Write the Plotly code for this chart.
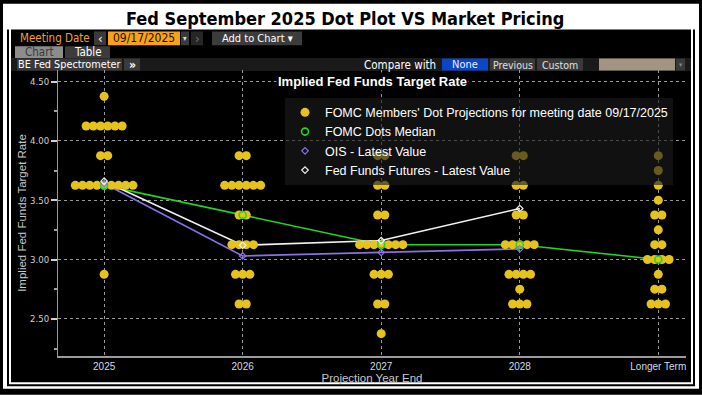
import plotly.graph_objects as go

# ---------------- data ----------------
categories = ["2025", "2026", "2027", "2028", "Longer Term"]

dot_rates_2025 = [4.375, 4.125, 3.875, 3.625, 2.875]
dot_counts_2025 = [1, 6, 2, 9, 1]
dot_rates_2026 = [3.875, 3.625, 3.375, 3.125, 2.875, 2.625]
dot_counts_2026 = [2, 6, 2, 4, 3, 2]
dot_rates_2027 = [3.875, 3.625, 3.375, 3.125, 2.875, 2.625, 2.375]
dot_counts_2027 = [2, 2, 2, 7, 3, 2, 1]
dot_rates_2028 = [3.875, 3.625, 3.375, 3.125, 2.875, 2.75, 2.625]
dot_counts_2028 = [2, 2, 2, 5, 4, 1, 3]
dot_rates_lt = [3.875, 3.75, 3.625, 3.5, 3.375, 3.25, 3.125, 3.0, 2.875, 2.75, 2.625]
dot_counts_lt = [1, 1, 1, 1, 2, 1, 2, 4, 1, 2, 3]

median_values = [3.625, 3.375, 3.125, 3.125, 3.0]
ois_values = [3.64, 3.03, 3.06, 3.09]
fff_values = [3.66, 3.12, 3.16, 3.43]

y_ticks = [2.5, 3.0, 3.5, 4.0, 4.5]
y_tick_labels = ["2.50", "3.00", "3.50", "4.00", "4.50"]

# ---------------- layout helpers ----------------
W, H = 702, 395
L, R, T, B = 58, 686, 70, 359
DOT_SPACING = 0.052


def px(x):
    return (x - L) / (R - L)


def py(y):
    return (B - y) / (B - T)


NARROW = "Liberation Sans Narrow, DejaVu Sans Condensed, Arial Narrow, sans-serif"
SANS = "Liberation Sans, Arial, sans-serif"

shapes = []
annotations = []


def rect(x0, y0, x1, y1, fill=None, line_color=None, line_width=0, layer="below"):
    shapes.append(dict(
        type="rect", xref="paper", yref="paper",
        x0=px(x0), x1=px(x1), y0=py(y1), y1=py(y0),
        fillcolor=fill if fill else "rgba(0,0,0,0)",
        line=dict(color=line_color if line_color else "rgba(0,0,0,0)", width=line_width),
        layer=layer,
    ))


def text(x, y, s, color="#ffffff", size=12, xanchor="center", family=NARROW, bg=None):
    a = dict(xref="paper", yref="paper", x=px(x), y=py(y), text=s, showarrow=False,
             xanchor=xanchor, yanchor="middle",
             font=dict(color=color, size=size, family=family))
    if bg:
        a["bgcolor"] = bg
    annotations.append(a)


# panel & borders
rect(7, 29, 695, 389.5, fill="#000000")
rect(10, 27, 692, 386.5, line_color="#ffffff", line_width=2)
shapes.append(dict(type="rect", xref="paper", yref="paper",
                   x0=px(0), x1=px(W), y0=py(H), y1=py(0),
                   line=dict(color="#000000", width=6), fillcolor="rgba(0,0,0,0)", layer="above"))

# main title
text(345, 17.5, "<b>Fed September 2025 Dot Plot VS Market Pricing</b>", color="#000000", size=18)

# toolbar row 1
text(18, 38, "Meeting Date", color="#f0a030", size=11.5, xanchor="left")
rect(94, 31, 106, 45, fill="#3a3a3a")
text(100, 38, "‹", color="#ffffff", size=13)
rect(108, 31, 180, 45, fill="#f7a21b")
text(144, 38, "09/17/2025", color="#1a1200", size=12)
rect(181, 31, 189, 45, fill="#3a3a3a")
text(185, 38, "▾", color="#dddddd", size=8)
rect(191, 31, 203, 45, fill="#262626")
text(197, 38, "›", color="#777777", size=13)
rect(212, 31, 302, 45, fill="#3c3c3c")
text(257, 38, "Add to Chart ▾", color="#ffffff", size=11)

# toolbar row 2 (tabs)
rect(15, 46, 63, 58, fill="#8c8c8c")
text(39, 52, "Chart", color="#3a3a3a", size=11.5)
rect(65, 46, 110, 58, fill="#3c3c3c")
text(87.5, 52, "Table", color="#ffffff", size=11.5)

# toolbar row 3
rect(11, 58, 691, 71, fill="#1a1a1a")
rect(17, 58.5, 122, 70.5, fill="#3a3a3a")
text(69.5, 64.5, "BE Fed Spectrometer", color="#ffffff", size=10.8)
rect(124, 58.5, 140, 70.5, fill="#3a3a3a")
text(132, 64.5, "<b>»</b>", color="#ffffff", size=12)
text(438, 64.5, "Compare with", color="#ffffff", size=11.5, xanchor="right")
rect(442, 58.5, 488, 70.5, fill="#0c46c8")
text(465, 64.5, "None", color="#e8f0ff", size=11)
rect(490, 58.5, 535, 70.5, fill="#3a3a3a")
text(512.5, 64.5, "Previous", color="#e0e0e0", size=10.5)
rect(537, 58.5, 583, 70.5, fill="#3a3a3a")
text(560, 64.5, "Custom", color="#e0e0e0", size=10.5)
rect(599, 58.5, 675, 70.5, fill="#a39582")
rect(676, 58.5, 685, 70.5, fill="#3a3a3a")
text(680.5, 64.5, "▾", color="#888888", size=7)

# chart title inside plot
text(372, 82, "<b>Implied Fed Funds Target Rate</b>", color="#ffffff", size=13, family=SANS, bg="#000000")

# ---------------- traces ----------------
dot_groups = [
    (dot_rates_2025, dot_counts_2025),
    (dot_rates_2026, dot_counts_2026),
    (dot_rates_2027, dot_counts_2027),
    (dot_rates_2028, dot_counts_2028),
    (dot_rates_lt, dot_counts_lt),
]
dot_x, dot_y = [], []
for ci, (rates, counts) in enumerate(dot_groups):
    for r, n in zip(rates, counts):
        for i in range(n):
            dot_x.append(ci + (i - (n - 1) / 2) * DOT_SPACING)
            dot_y.append(r)

cat_idx = list(range(len(categories)))
GREEN, PURPLE, WHITE, YELLOW = "#22d622", "#8a72e6", "#f2f2f2", "#e6c21c"

fig = go.Figure()
fig.add_trace(go.Scatter(x=cat_idx, y=median_values, mode="lines",
                         line=dict(color=GREEN, width=1.6), showlegend=False, hoverinfo="skip"))
fig.add_trace(go.Scatter(x=cat_idx[:len(ois_values)], y=ois_values, mode="lines",
                         line=dict(color=PURPLE, width=1.6), showlegend=False, hoverinfo="skip"))
fig.add_trace(go.Scatter(x=cat_idx[:len(fff_values)], y=fff_values, mode="lines",
                         line=dict(color=WHITE, width=1.6), showlegend=False, hoverinfo="skip"))
fig.add_trace(go.Scatter(x=dot_x, y=dot_y, mode="markers",
                         name="FOMC Members' Dot Projections for meeting date 09/17/2025",
                         marker=dict(color=YELLOW, size=9, line=dict(width=0))))
fig.add_trace(go.Scatter(x=cat_idx, y=median_values, mode="markers", name="FOMC Dots Median",
                         marker=dict(symbol="circle-open", color=GREEN, size=7, line=dict(width=1.6))))
fig.add_trace(go.Scatter(x=cat_idx[:len(ois_values)], y=ois_values, mode="markers",
                         name="OIS - Latest Value",
                         marker=dict(symbol="diamond-open", color=PURPLE, size=5, line=dict(width=1.2))))
fig.add_trace(go.Scatter(x=cat_idx[:len(fff_values)], y=fff_values, mode="markers",
                         name="Fed Funds Futures - Latest Value",
                         marker=dict(symbol="diamond-open", color=WHITE, size=5, line=dict(width=1.2))))

fig.update_layout(
    width=W, height=H,
    margin=dict(l=L, r=W - R, t=T, b=H - B, pad=0),
    paper_bgcolor="#ffffff", plot_bgcolor="#000000",
    shapes=shapes, annotations=annotations,
    hovermode=False,
    legend=dict(x=px(285), y=py(98), xanchor="left", yanchor="top",
                bgcolor="rgba(28,28,28,0.62)", borderwidth=0,
                font=dict(color="#ffffff", size=12.5, family=SANS),
                tracegroupgap=0),
    xaxis=dict(range=[-0.333, 4.2], tickmode="array", tickvals=cat_idx, ticktext=categories,
               showgrid=True, gridcolor="#9a9a9a", griddash="dot", gridwidth=1,
               zeroline=False, showline=True, linecolor="#9a9a9a", linewidth=2,
               ticks="", tickfont=dict(color="#d0dce8", size=10, family=SANS),
               title=dict(text="Projection Year End", standoff=3,
                          font=dict(color="#c8c8c8", size=11.5, family=SANS))),
    yaxis=dict(range=[2.187, 4.597], tickmode="array", tickvals=y_ticks, ticktext=y_tick_labels,
               showgrid=True, gridcolor="#9a9a9a", griddash="dot", gridwidth=1,
               zeroline=False, showline=True, linecolor="#9a9a9a", linewidth=1,
               ticks="outside", ticklen=6, tickcolor="#d0d0d0", tickwidth=1.5,
               minor=dict(dtick=0.25, tick0=0, ticks="outside", ticklen=3, tickcolor="#a0a0a0", showgrid=False),
               tickfont=dict(color="#d0d0d0", size=9.5, family=NARROW),
               title=dict(text="Implied Fed Funds Target Rate", standoff=1,
                          font=dict(color="#c8c8c8", size=11.5, family=SANS))),
)

fig.write_html("out.html", config={"displayModeBar": False},
               post_script="document.body.style.margin='0px';document.body.style.padding='0px';")
